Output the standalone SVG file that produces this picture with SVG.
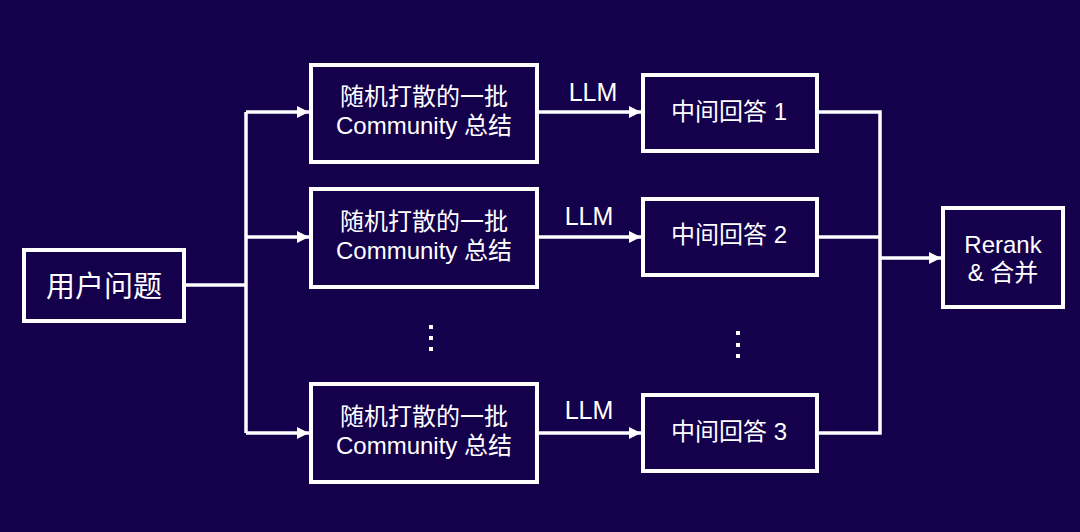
<svg xmlns="http://www.w3.org/2000/svg" width="1080" height="532" viewBox="0 0 1080 532">
<style>
.bg{fill:#15004C}
.box{fill:#15004C;stroke:#FFFFFF;stroke-width:4}
.t{fill:#FFFFFF;font-family:"Liberation Sans","Noto Sans CJK SC",sans-serif;font-size:24px;text-anchor:middle}
.big{font-size:29px}
.llm{font-size:25px}
.ln{fill:none;stroke:#FFFFFF;stroke-width:3.5}
.dot{fill:#FFFFFF}
</style>
<defs>
<marker id="ah" viewBox="0 0 12 12" refX="12" refY="6" markerWidth="12" markerHeight="12" markerUnits="userSpaceOnUse" orient="auto">
<path d="M0,0 L12,6 L0,12 Z" fill="#FFFFFF"/>
</marker>
</defs>
<rect class="bg" x="0" y="0" width="1080" height="532"/>

<g id="connectors">
<path class="ln" d="M186,285 H246"/>
<path class="ln" d="M246,112 V433"/>
<path class="ln" d="M246,112 H309" marker-end="url(#ah)"/>
<path class="ln" d="M246,237 H309" marker-end="url(#ah)"/>
<path class="ln" d="M246,433 H309" marker-end="url(#ah)"/>
<path class="ln" d="M539,112 H641" marker-end="url(#ah)"/>
<path class="ln" d="M539,237 H641" marker-end="url(#ah)"/>
<path class="ln" d="M539,433 H641" marker-end="url(#ah)"/>
<path class="ln" d="M819,112 H880 V433 H819"/>
<path class="ln" d="M819,237 H880"/>
<path class="ln" d="M880,258 H941" marker-end="url(#ah)"/>
<text class="t llm" x="593" y="101">LLM</text>
<text class="t llm" x="589" y="225">LLM</text>
<text class="t llm" x="589" y="419">LLM</text>
</g>

<g id="question">
<rect class="box" x="24" y="250" width="160" height="71"/>
<text class="t big" x="104" y="297">用户问题</text>
</g>

<g id="community1">
<rect class="box" x="311" y="65" width="226" height="97"/>
<text class="t" x="424" y="105">随机打散的一批</text>
<text class="t" x="424" y="134">Community 总结</text>
</g>
<g id="community2">
<rect class="box" x="311" y="189" width="226" height="98"/>
<text class="t" x="424" y="230">随机打散的一批</text>
<text class="t" x="424" y="259">Community 总结</text>
</g>
<g id="community3">
<rect class="box" x="311" y="384" width="226" height="98"/>
<text class="t" x="424" y="425">随机打散的一批</text>
<text class="t" x="424" y="454">Community 总结</text>
</g>

<g id="dots-left">
<rect class="dot" x="429" y="325" width="4" height="4"/>
<rect class="dot" x="429" y="336" width="4" height="4"/>
<rect class="dot" x="429" y="347" width="4" height="4"/>
</g>
<g id="dots-right">
<rect class="dot" x="736" y="331" width="4" height="4"/>
<rect class="dot" x="736" y="343" width="4" height="4"/>
<rect class="dot" x="736" y="354" width="4" height="4"/>
</g>

<g id="answer1">
<rect class="box" x="643" y="75" width="174" height="76"/>
<text class="t" x="729" y="120">中间回答 1</text>
</g>
<g id="answer2">
<rect class="box" x="643" y="199" width="174" height="76"/>
<text class="t" x="729" y="243">中间回答 2</text>
</g>
<g id="answer3">
<rect class="box" x="643" y="395" width="174" height="76"/>
<text class="t" x="729" y="440">中间回答 3</text>
</g>

<g id="rerank">
<rect class="box" x="943" y="208" width="120" height="99"/>
<text class="t" x="1003" y="253">Rerank</text>
<text class="t" x="1003" y="281">&amp; 合并</text>
</g>
</svg>
